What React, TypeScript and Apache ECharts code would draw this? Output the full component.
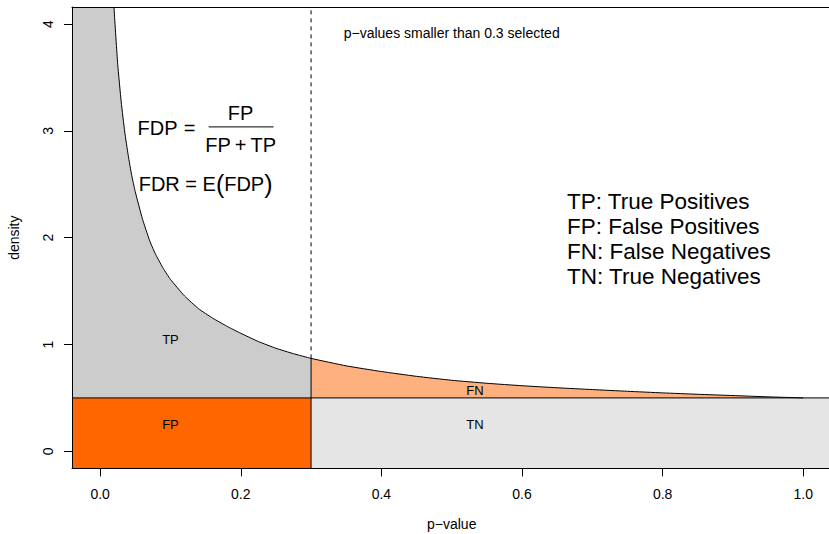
import React, { useEffect, useRef } from "react";
import * as echarts from "echarts";

// p-value grid and the density
const pValues = [
  0.015, 0.02, 0.025, 0.03, 0.035, 0.04, 0.045, 0.05, 0.06, 0.07, 0.075, 0.08,
  0.09, 0.1, 0.12, 0.14, 0.16, 0.18, 0.2, 0.225, 0.25, 0.275, 0.3, 0.35, 0.4,
  0.45, 0.5, 0.55, 0.6, 0.65, 0.7, 0.75, 0.8, 0.85, 0.9, 0.95, 1.0,
];
const density = [
  4.89, 4.13, 3.625, 3.27, 2.99, 2.77, 2.58, 2.43, 2.18, 1.98, 1.9, 1.83,
  1.71, 1.61, 1.455, 1.335, 1.247, 1.172, 1.105, 1.028, 0.965, 0.914, 0.87,
  0.8, 0.747, 0.702, 0.665, 0.637, 0.614, 0.595, 0.578, 0.562, 0.547, 0.534,
  0.522, 0.51, 0.5,
];

const xTicks = [0, 0.2, 0.4, 0.6, 0.8, 1.0];
const yTicks = [0, 1, 2, 3, 4];
const xRange = [-0.04, 1.04];
const yRange = [-0.16, 4.16];

const threshold = 0.3;
const nullDensity = 0.5;

const regionLabels = ["TP", "FP", "FN", "TN"];
const regionLabelX = [0.1, 0.1, 0.533, 0.533];
const regionLabelY = [1.05, 0.25, 0.565, 0.25];

const legendLines = [
  "TP: True Positives",
  "FP: False Positives",
  "FN: False Negatives",
  "TN: True Negatives",
];
const legendX = 0.664;
const legendY = [2.337, 2.103, 1.869, 1.635];

const noteText = "p\u2212values smaller than 0.3 selected";
const noteX = 0.5;
const noteY = 3.92;

const formulaX = 0.15;
const formulaY = [3, 2.5];

const colors = {
  tp: "#CCCCCC",
  fp: "#FF6600",
  fn: "#FFB07F",
  tn: "#E5E5E5",
};

const FONT = "'Liberation Sans', Arial, Helvetica, sans-serif";

export default function App() {
  const ref = useRef<HTMLDivElement>(null);

  useEffect(() => {
    if (!ref.current) return;
    const chart = echarts.init(ref.current, null, { renderer: "svg" });

    const renderItem = (_params: any, api: any) => {
      const c = (x: number, y: number) => api.coord([x, y]);
      const [x0, x1] = xRange;
      const [y0, y1] = yRange;
      const pts = pValues.map((x, i) => [x, density[i]]);
      const leftPts = pts.filter((p) => p[0] <= threshold);
      const rightPts = pts.filter((p) => p[0] >= threshold);
      const curveAtT = density[pValues.indexOf(threshold)];

      const children: any[] = [];
      children.push({
        type: "polygon",
        shape: { points: [c(x0, y0), c(threshold, y0), c(threshold, nullDensity), c(x0, nullDensity)] },
        style: { fill: colors.fp },
      });
      children.push({
        type: "polygon",
        shape: { points: [c(threshold, y0), c(x1, y0), c(x1, nullDensity), c(threshold, nullDensity)] },
        style: { fill: colors.tn },
      });
      children.push({
        type: "polygon",
        shape: {
          points: [
            c(x0, nullDensity),
            c(x0, density[0]),
            ...leftPts.map((p) => c(p[0], p[1])),
            c(threshold, nullDensity),
          ],
        },
        style: { fill: colors.tp },
      });
      children.push({
        type: "polygon",
        shape: {
          points: [...rightPts.map((p) => c(p[0], p[1])), c(threshold, nullDensity)],
        },
        style: { fill: colors.fn },
      });
      const hA = c(x0, nullDensity);
      const hB = c(x1, nullDensity);
      children.push({
        type: "line",
        shape: { x1: hA[0], y1: hA[1], x2: hB[0], y2: hB[1] },
        style: { stroke: "#000", lineWidth: 1 },
      });
      const vA = c(threshold, y0);
      const vB = c(threshold, curveAtT);
      children.push({
        type: "line",
        shape: { x1: vA[0], y1: vA[1], x2: vB[0], y2: vB[1] },
        style: { stroke: "#000", lineWidth: 1 },
      });
      const dA = c(threshold, curveAtT);
      const dB = c(threshold, y1);
      children.push({
        type: "line",
        shape: { x1: dA[0], y1: dA[1], x2: dB[0], y2: dB[1] },
        style: { stroke: "#000", lineWidth: 1, lineDash: [4, 4] },
      });
      children.push({
        type: "polyline",
        shape: { points: pts.map((p) => c(p[0], p[1])), smooth: 0.15 },
        style: { stroke: "#000", lineWidth: 1, fill: null },
      });

      regionLabels.forEach((t, i) => {
        const p = c(regionLabelX[i], regionLabelY[i]);
        children.push({
          type: "text",
          x: p[0],
          y: p[1],
          style: {
            text: t,
            fontSize: 13,
            fontFamily: FONT,
            fill: "#000",
            align: "center",
            verticalAlign: "middle",
          },
        });
      });

      const np = c(noteX, noteY);
      children.push({
        type: "text",
        x: np[0],
        y: np[1],
        style: {
          text: noteText,
          fontSize: 14,
          fontFamily: FONT,
          fill: "#000",
          align: "center",
          verticalAlign: "middle",
        },
      });

      legendLines.forEach((t, i) => {
        const p = c(legendX, legendY[i]);
        children.push({
          type: "text",
          x: p[0],
          y: p[1],
          style: {
            text: t,
            fontSize: 22.5,
            fontFamily: FONT,
            fill: "#000",
            align: "left",
            verticalAlign: "middle",
          },
        });
      });

      const f1 = c(formulaX, formulaY[0]);
      const cx = f1[0];
      const cy = f1[1];
      const fStyle = (text: string, align: string) => ({
        text,
        fontSize: 20,
        fontFamily: FONT,
        fill: "#000",
        align,
        verticalAlign: "middle",
      });
      children.push({ type: "text", x: cx - 68, y: cy - 3, style: fStyle("FDP", "left") });
      children.push({ type: "text", x: cx - 16, y: cy - 3, style: fStyle("=", "center") });
      children.push({ type: "text", x: cx + 35, y: cy - 18, style: fStyle("FP", "center") });
      children.push({
        type: "line",
        shape: { x1: cx + 3, y1: cy - 4, x2: cx + 68, y2: cy - 4 },
        style: { stroke: "#000", lineWidth: 1 },
      });
      children.push({
        type: "text",
        x: cx + 35,
        y: cy + 14,
        style: fStyle("FP\u2009+\u2009TP", "center"),
      });

      const f2 = c(formulaX, formulaY[1]);
      children.push({
        type: "text",
        x: f2[0],
        y: f2[1],
        style: {
          text: "{a|FDR = E}{p|(}{a|FDP}{p|)}",
          fontFamily: FONT,
          fill: "#000",
          align: "center",
          verticalAlign: "middle",
          rich: {
            a: { fontSize: 20, fontFamily: FONT, fill: "#000" },
            p: { fontSize: 25, fontFamily: FONT, fill: "#000" },
          },
        },
      });

      return { type: "group", children };
    };

    chart.setOption({
      animation: false,
      textStyle: { fontFamily: FONT },
      grid: {
        left: 72,
        top: 7,
        right: -2.4,
        bottom: 65.6,
        containLabel: false,
        outerBoundsMode: "none",
      },
      xAxis: [
        {
          type: "value",
          min: xRange[0],
          max: xRange[1],
          position: "bottom",
          z: 10,
          axisLine: { show: true, onZero: false, lineStyle: { color: "#000", width: 1 } },
          axisTick: { show: true, customValues: xTicks, length: 8, lineStyle: { color: "#000" } },
          axisLabel: {
            customValues: xTicks,
            formatter: (v: number) => v.toFixed(1),
            fontSize: 14,
            color: "#000",
            margin: 19,
            fontFamily: FONT,
          },
          splitLine: { show: false },
          name: "p\u2212value",
          nameLocation: "middle",
          nameGap: 49,
          nameTextStyle: { fontSize: 14, color: "#000", fontFamily: FONT },
        },
        {
          type: "value",
          min: xRange[0],
          max: xRange[1],
          position: "top",
          z: 10,
          axisLine: { show: true, onZero: false, lineStyle: { color: "#000", width: 1 } },
          axisTick: { show: false },
          axisLabel: { show: false },
          splitLine: { show: false },
        },
      ],
      yAxis: [
        {
          type: "value",
          min: yRange[0],
          max: yRange[1],
          position: "left",
          z: 10,
          axisLine: { show: true, onZero: false, lineStyle: { color: "#000", width: 1 } },
          axisTick: { show: true, customValues: yTicks, length: 8, lineStyle: { color: "#000" } },
          axisLabel: {
            customValues: yTicks,
            formatter: (v: number) => String(v),
            rotate: 90,
            fontSize: 14,
            color: "#000",
            margin: 17,
            fontFamily: FONT,
          },
          splitLine: { show: false },
          name: "density",
          nameLocation: "middle",
          nameGap: 51,
          nameRotate: 90,
          nameTextStyle: { fontSize: 14, color: "#000", fontFamily: FONT },
        },
        {
          type: "value",
          min: yRange[0],
          max: yRange[1],
          position: "right",
          z: 10,
          axisLine: { show: true, onZero: false, lineStyle: { color: "#000", width: 1 } },
          axisTick: { show: false },
          axisLabel: { show: false },
          splitLine: { show: false },
        },
      ],
      series: [
        {
          type: "custom",
          clip: true,
          xAxisIndex: 0,
          yAxisIndex: 0,
          renderItem,
          data: [[threshold, nullDensity]],
          silent: true,
        },
      ],
    });

    return () => chart.dispose();
  }, []);

  return (
    <div
      ref={ref}
      style={{ position: "fixed", left: 0, top: 0, width: 829, height: 534, background: "#fff" }}
    />
  );
}
